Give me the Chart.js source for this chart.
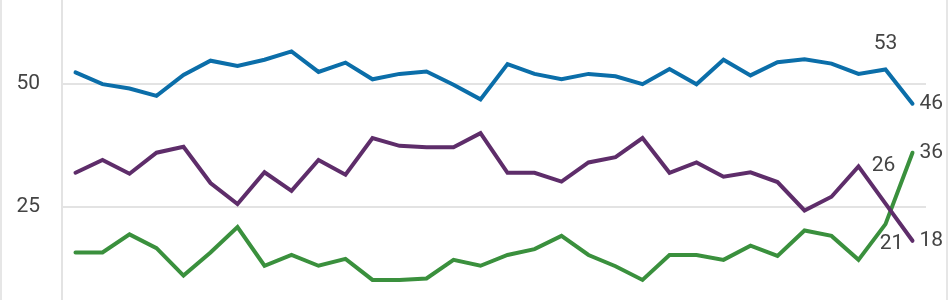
<!DOCTYPE html>
<html>
<head>
<meta charset="utf-8">
<script src="https://cdn.jsdelivr.net/npm/chart.js@4/dist/chart.umd.min.js"></script>
<style>
  html, body { margin: 0; padding: 0; background: #fff; }
  #wrap {
    width: 948px;
    height: 300px;
    box-sizing: border-box;
    border-left: 2px solid #e6e6e6;
    border-right: 2px solid #e6e6e6;
    position: relative;
  }
</style>
</head>
<body>
<div id="wrap"><canvas id="chart"></canvas></div>
<script>
// poll rounds (not shown on the chart)
const rounds = ['1','2','3','4','5','6','7','8','9','10','11','12','13','14','15','16',
  '17','18','19','20','21','22','23','24','25','26','27','28','29','30','31','32'];

const blueValues = [52.4, 50, 49.1, 47.6, 51.9, 54.8, 53.7, 55, 56.7, 52.5, 54.4, 51, 52.1, 52.6, 49.9, 46.9,
  54.1, 52.1, 51, 52.1, 51.6, 50, 53.1, 50, 55, 51.8, 54.5, 55.1, 54.2, 52.1, 53, 46];
const purpleValues = [31.9, 34.5, 31.7, 36, 37.2, 29.8, 25.5, 32, 28.2, 34.5, 31.5, 39, 37.4, 37.1, 37.1, 40,
  31.9, 31.9, 30.1, 34, 35.1, 39, 31.9, 34, 31.1, 32, 30, 24.2, 27, 33.2, 25.6, 18];
const greenValues = [15.6, 15.6, 19.3, 16.5, 10.9, 15.6, 20.8, 12.9, 15.1, 12.9, 14.3, 10, 10, 10.3, 14.1, 12.9,
  15.1, 16.3, 19, 15.1, 12.8, 10, 15.1, 15.1, 14.1, 17, 14.9, 20.1, 19, 14.1, 21.4, 36];

const yTicks = [25, 50];

const textColor = '#444';
const fontFamily = 'Roboto, "Noto Sans", sans-serif';

// where each end label sits relative to its point
const labelPlacement = [
  // dataset 0 (blue)
  [{ index: 30, dx: 0, dy: -26, align: 'center' }, { index: 31, dx: 7, dy: 0, align: 'left' }],
  // dataset 1 (purple)
  [{ index: 30, dx: -2, dy: -38, align: 'center' }, { index: 31, dx: 7, dy: 0, align: 'left' }],
  // dataset 2 (green)
  [{ index: 30, dx: 6, dy: 20, align: 'center' }, { index: 31, dx: 7, dy: 0, align: 'left' }]
];

const endLabels = {
  id: 'endLabels',
  afterDatasetsDraw(chart) {
    const ctx = chart.ctx;
    ctx.save();
    ctx.font = '21px ' + fontFamily;
    ctx.fillStyle = textColor;
    ctx.textBaseline = 'middle';
    chart.data.datasets.forEach((ds, di) => {
      const meta = chart.getDatasetMeta(di);
      labelPlacement[di].forEach(p => {
        const pt = meta.data[p.index];
        if (!pt) return;
        ctx.textAlign = p.align;
        ctx.fillText(Math.round(ds.data[p.index]).toString(), pt.x + p.dx, pt.y + p.dy);
      });
    });
    ctx.restore();
  }
};

const canvas = document.getElementById('chart');

new Chart(canvas, {
  type: 'line',
  data: {
    labels: rounds,
    datasets: [
      { data: blueValues, borderColor: '#0b6ea9' },
      { data: purpleValues, borderColor: '#5e2d6a' },
      { data: greenValues, borderColor: '#3a903d' }
    ].map(d => Object.assign(d, {
      borderWidth: 4,
      pointRadius: 0,
      pointHoverRadius: 0,
      tension: 0,
      fill: false,
      borderJoinStyle: 'miter',
      borderCapStyle: 'round'
    }))
  },
  options: {
    responsive: true,
    maintainAspectRatio: false,
    animation: false,
    layout: { padding: { top: 0, bottom: 0, left: 0, right: 20 } },
    plugins: {
      legend: { display: false },
      tooltip: { enabled: false }
    },
    scales: {
      x: {
        display: false,
        offset: true
      },
      y: {
        min: 5.9,
        max: 67.2,
        afterBuildTicks: (scale) => {
          scale.ticks = yTicks.map(v => ({ value: v }));
        },
        afterFit: (scale) => {
          scale.width = 60;
          scale.paddingTop = 0;
          scale.paddingBottom = 0;
        },
        grid: {
          color: '#e3e3e3',
          lineWidth: 2,
          drawTicks: false
        },
        border: { display: true, color: '#e3e3e3', width: 2 },
        ticks: {
          padding: 22,
          color: textColor,
          font: { family: fontFamily, size: 21 }
        }
      }
    }
  },
  plugins: [endLabels]
});
</script>
</body>
</html>
